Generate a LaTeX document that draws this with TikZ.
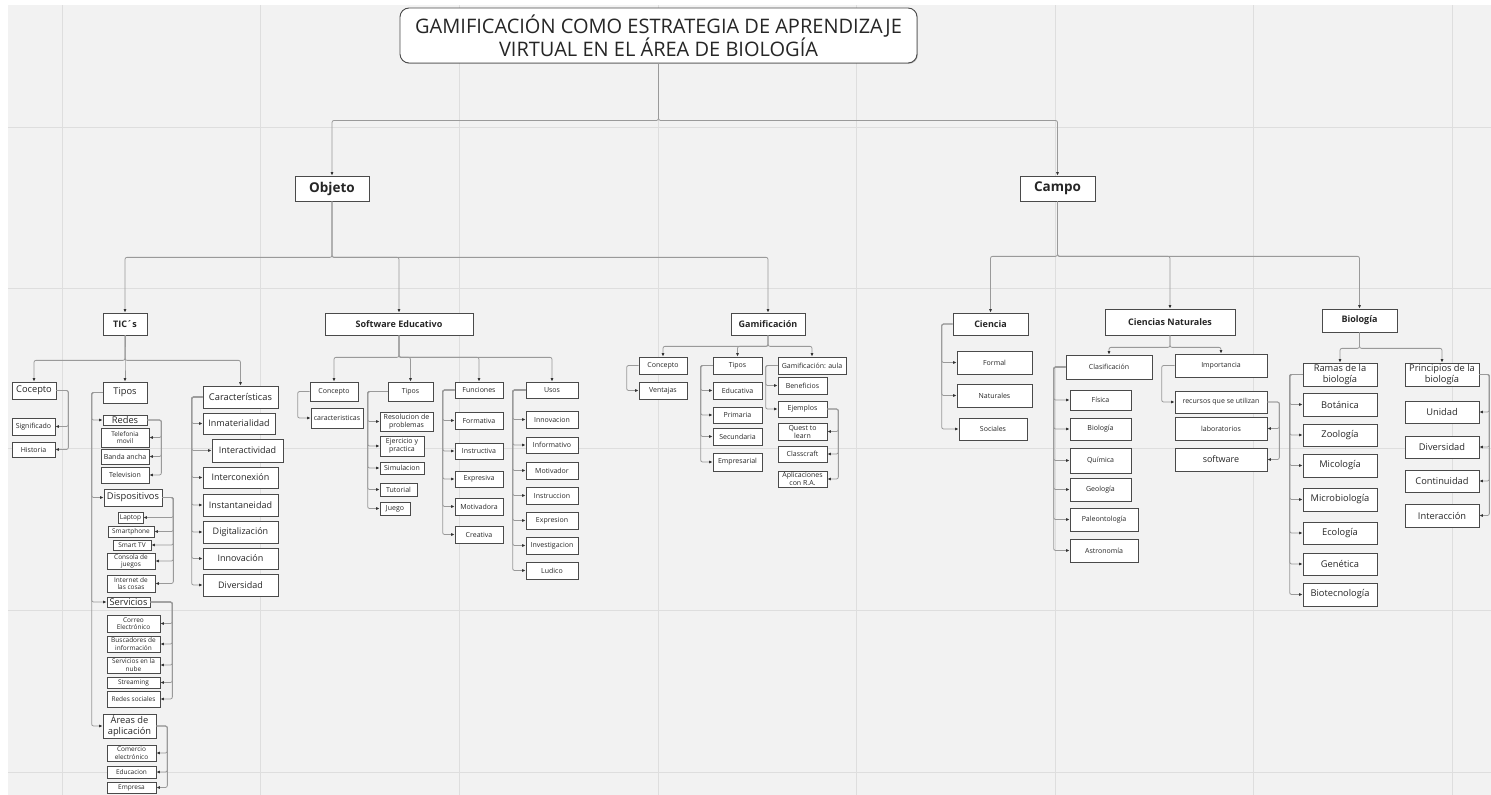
\documentclass[tikz,border=0pt]{standalone}
\usepackage{fontspec}
\newfontfamily\osf{Open Sans}
\usetikzlibrary{arrows.meta,shadows}
\definecolor{bg}{HTML}{F2F2F2}
\definecolor{gridc}{HTML}{DEDEDE}
\definecolor{bord}{HTML}{4A4A4A}
\definecolor{lin}{HTML}{9A9A9A}
\definecolor{tipc}{HTML}{333333}
\definecolor{txt}{HTML}{262626}
\newcommand{\bx}[7]{\node[#1, minimum width={#5-#3}, minimum height={#6-#4}] (#2) at ({(#3+#5)/2},{(#4+#6)/2}) {#7};}
\tikzset{
  box/.style={draw=bord, fill=white, line width=0.7pt, inner sep=0pt, align=center, text=txt,
    drop shadow={shadow xshift=0.8pt, shadow yshift=-0.8pt, fill=black, opacity=0.25}},
  ttl/.style={box, rounded corners=9pt, line width=0.9pt, font=\osf\fontsize{20}{23}\selectfont},
  bigb/.style={box, font=\osf\bfseries\fontsize{13.5}{15}\selectfont},
  midb/.style={box, font=\osf\bfseries\fontsize{9}{10.5}\selectfont},
  tA/.style={box, font=\osf\fontsize{9.3}{10.5}\selectfont},
  tB/.style={box, font=\osf\fontsize{9}{10}\selectfont},
  tC/.style={box, font=\osf\fontsize{7}{8}\selectfont},
  tD/.style={box, font=\osf\fontsize{6.5}{7.3}\selectfont},
  conn/.style={draw=lin, line width=0.8pt, rounded corners=2pt},
  arr/.style={conn, -{Latex[length=3.5pt,width=3pt,color=tipc]}},
}
\begin{document}
\begin{tikzpicture}[x=1pt,y=-1pt]
\useasboundingbox (0,0) rectangle (1491,795);
\fill[white] (0,0) rectangle (1491,795);
\fill[bg] (8,5) rectangle (1491,795);
\foreach \gx in {62,260,459,658,856,1055,1253,1452} \draw[gridc, line width=0.8pt] (\gx,5) -- (\gx,795);
\foreach \gy in {127,288,448,610,772} \draw[gridc, line width=0.8pt] (8,\gy) -- (1491,\gy);

% ---------- top levels
\bx{ttl}{title}{400}{8}{917}{63}{GAMIFICACIÓN COMO ESTRATEGIA DE APRENDIZAJE\\VIRTUAL EN EL ÁREA DE BIOLOGÍA}
\bx{bigb}{objeto}{295}{176}{369}{201}{Objeto}
\bx{bigb}{campo}{1020}{176}{1095}{201}{Campo}
\bx{midb}{tic}{103}{313}{147}{335}{TIC´s}
\bx{midb}{soft}{325}{313}{473}{335}{Software Educativo}
\bx{midb}{gam}{731}{313}{805}{335}{Gamificación}
\bx{midb}{cie}{953}{313}{1028}{335}{Ciencia}
\bx{midb}{cnat}{1105}{309}{1235}{335}{Ciencias Naturales}
\bx{midb}{bio}{1322}{309}{1397}{332}{Biología}

% ---------- TIC's subtree
\bx{tA}{tcoc}{12}{382}{56}{399}{Cocepto}
\bx{tC}{tsig}{12}{418}{55}{435}{Significado}
\bx{tC}{this}{12}{442}{55}{457}{Historia}
\bx{tA}{ttip}{103}{382}{147}{403}{Tipos}
\bx{tA}{tred}{103}{415}{147}{425}{Redes}
\bx{tD}{ttel}{101}{428}{149}{447}{Telefonia\\movil}
\bx{tC}{tban}{101}{449}{149}{464}{Banda ancha}
\bx{tC}{ttv}{101}{467}{149}{483}{Television}
\bx{tA}{tdis}{104}{489}{162}{506}{Dispositivos}
\bx{tD}{tlap}{118}{512}{143}{523}{Laptop}
\bx{tD}{tsma}{108}{526}{154}{537}{Smartphone}
\bx{tD}{tstv}{113}{540}{151}{550}{Smart TV}
\bx{tD}{tcon}{107}{553}{155}{569}{Consola de\\juegos}
\bx{tD}{tint}{107}{575}{155}{592}{Internet de\\las cosas}
\bx{tA}{tser}{107}{597}{150}{607}{Servicios}
\bx{tD}{tcor}{107}{615}{160}{632}{Correo\\Electrónico}
\bx{tD}{tbus}{107}{636}{160}{652}{Buscadores de\\información}
\bx{tD}{tnub}{107}{657}{160}{673}{Servicios en la\\nube}
\bx{tD}{tstr}{107}{677}{160}{688}{Streaming}
\bx{tD}{tres}{107}{691}{160}{707}{Redes sociales}
\bx{tA}{tare}{103}{714}{156}{738}{Áreas de\\aplicación}
\bx{tD}{tcom}{107}{745}{156}{761}{Comercio\\electrónico}
\bx{tD}{tedu}{107}{766}{156}{778}{Educacion}
\bx{tD}{temp}{107}{782}{156}{793}{Empresa}
\bx{tA}{tcar}{203}{386}{278}{408}{Características}
\bx{tB}{ch1}{203}{413}{275}{434}{Inmaterialidad}
\bx{tB}{ch2}{212}{439}{283}{462}{Interactividad}
\bx{tB}{ch3}{203}{467}{278}{488}{Interconexión}
\bx{tB}{ch4}{203}{494}{278}{516}{Instantaneidad}
\bx{tB}{ch5}{203}{521}{278}{543}{Digitalización}
\bx{tB}{ch6}{203}{548}{278}{569}{Innovación}
\bx{tB}{ch7}{203}{574}{278}{596}{Diversidad}

% ---------- Software Educativo subtree
\bx{tC}{scon}{310}{382}{358}{401}{Concepto}
\bx{tC}{scar}{311}{408}{363}{428}{caracteristicas}
\bx{tC}{stip}{388}{382}{433}{401}{Tipos}
\bx{tC}{st1}{380}{412}{433}{431}{Resolucion de\\problemas}
\bx{tC}{st2}{380}{436}{424}{456}{Ejercicio y\\practica}
\bx{tC}{st3}{380}{462}{424}{474}{Simulacion}
\bx{tC}{st4}{380}{483}{417}{496}{Tutorial}
\bx{tC}{st5}{380}{502}{410}{515}{Juego}
\bx{tC}{sfun}{455}{382}{503}{398}{Funciones}
\bx{tC}{sf1}{455}{412}{503}{429}{Formativa}
\bx{tC}{sf2}{455}{443}{503}{459}{Instructiva}
\bx{tC}{sf3}{455}{471}{503}{487}{Expresiva}
\bx{tC}{sf4}{455}{498}{503}{515}{Motivadora}
\bx{tC}{sf5}{455}{526}{503}{543}{Creativa}
\bx{tC}{suso}{526}{382}{578}{398}{Usos}
\bx{tC}{su1}{526}{411}{578}{428}{Innovacion}
\bx{tC}{su2}{526}{437}{578}{453}{Informativo}
\bx{tC}{su3}{526}{462}{578}{479}{Motivador}
\bx{tC}{su4}{526}{487}{578}{504}{Instruccion}
\bx{tC}{su5}{526}{512}{578}{529}{Expresion}
\bx{tC}{su6}{526}{537}{578}{554}{Investigacion}
\bx{tC}{su7}{526}{562}{578}{579}{Ludico}

% ---------- Gamificación subtree
\bx{tC}{gcon}{639}{357}{687}{374}{Concepto}
\bx{tC}{gven}{639}{382}{687}{399}{Ventajas}
\bx{tC}{gtip}{713}{357}{762}{374}{Tipos}
\bx{tC}{gt1}{713}{382}{762}{399}{Educativa}
\bx{tC}{gt2}{713}{407}{762}{423}{Primaria}
\bx{tC}{gt3}{713}{428}{762}{445}{Secundaria}
\bx{tC}{gt4}{713}{453}{762}{471}{Empresarial}
\bx{tC}{gaul}{778}{357}{846}{374}{Gamificación: aula}
\bx{tC}{gben}{778}{377}{827}{394}{Beneficios}
\bx{tC}{gejm}{778}{401}{827}{417}{Ejemplos}
\bx{tC}{ge1}{778}{423}{827}{440}{Quest to\\learn}
\bx{tC}{ge2}{778}{446}{827}{462}{Classcraft}
\bx{tC}{ge3}{778}{471}{827}{487}{Aplicaciones\\con R.A.}

% ---------- Ciencia / Ciencias Naturales
\bx{tC}{cf}{957}{351}{1032}{374}{Formal}
\bx{tC}{cn}{957}{384}{1032}{407}{Naturales}
\bx{tC}{cs}{959}{418}{1027}{440}{Sociales}
\bx{tC}{cla}{1066}{355}{1152}{379}{Clasificación}
\bx{tC}{k1}{1070}{390}{1131}{410}{Física}
\bx{tC}{k2}{1070}{418}{1131}{440}{Biología}
\bx{tC}{k3}{1070}{448}{1131}{473}{Química}
\bx{tC}{k4}{1070}{478}{1131}{501}{Geología}
\bx{tC}{k5}{1070}{508}{1138}{531}{Paleontología}
\bx{tC}{k6}{1070}{539}{1138}{562}{Astronomía}
\bx{tC}{imp}{1175}{354}{1267}{377}{Importancia}
\bx{tC}{rec}{1175}{391}{1267}{413}{recursos que se utilizan}
\bx{tC}{lab}{1175}{417}{1267}{440}{laboratorios}
\bx{tB}{sof}{1175}{448}{1267}{471}{software}

% ---------- Biología
\bx{tA}{ram}{1303}{363}{1377}{386}{Ramas de la\\biología}
\bx{tA}{r1}{1303}{393}{1377}{416}{Botánica}
\bx{tA}{r2}{1303}{424}{1377}{446}{Zoología}
\bx{tA}{r3}{1303}{454}{1377}{477}{Micología}
\bx{tA}{r4}{1303}{488}{1377}{511}{Microbiología}
\bx{tA}{r5}{1303}{522}{1377}{544}{Ecología}
\bx{tA}{r6}{1303}{553}{1377}{575}{Genética}
\bx{tA}{r7}{1303}{583}{1377}{606}{Biotecnología}
\bx{tA}{pri}{1405}{363}{1479}{386}{Principios de la\\biología}
\bx{tA}{p1}{1405}{401}{1479}{423}{Unidad}
\bx{tA}{p2}{1405}{436}{1479}{458}{Diversidad}
\bx{tA}{p3}{1405}{470}{1479}{492}{Continuidad}
\bx{tA}{p4}{1405}{504}{1479}{527}{Interacción}

% ---------- connectors: downward buses
\foreach \c in {objeto,campo} \draw[arr] (title.south) -- ++(0,57) -| (\c.north);
\foreach \c in {tic,soft,gam} \draw[arr] (objeto.south) -- ++(0,56) -| (\c.north);
\foreach \c in {cie,cnat,bio} \draw[arr] (campo.south) -- ++(0,55) -| (\c.north);
\foreach \c in {tcoc,ttip,tcar} \draw[arr] (tic.south) -- ++(0,25) -| (\c.north);
\foreach \c in {scon,stip,sfun,suso} \draw[arr] (soft.south) -- ++(0,22) -| (\c.north);
\foreach \c in {gcon,gtip,gaul} \draw[arr] (gam.south) -- ++(0,11) -| (\c.north);
\foreach \c in {cla,imp} \draw[arr] (cnat.south) -- ++(0,12) -| (\c.north);
\foreach \c in {ram,pri} \draw[arr] (bio.south) -- ++(0,16) -| (\c.north);

% ---------- side buses (left)
\foreach \c in {tred,tdis,tser,tare} \draw[arr] (ttip.west) -- ++(-11,0) |- (\c.west);
\foreach \c in {ch1,ch2,ch3,ch4,ch5,ch6,ch7} \draw[arr] (tcar.west) -- ++(-11,0) |- (\c.west);
\draw[arr] (scon.west) -- ++(-12,0) |- (scar.west);
\foreach \c in {st1,st2,st3,st4,st5} \draw[arr] (stip.west) -- ++(-20,0) |- (\c.west);
\foreach \c in {sf1,sf2,sf3,sf4,sf5} \draw[arr] (sfun.west) -- ++(-12,0) |- (\c.west);
\foreach \c in {su1,su2,su3,su4,su5,su6,su7} \draw[arr] (suso.west) -- ++(-13,0) |- (\c.west);
\draw[arr] (gcon.west) -- ++(-12,0) |- (gven.west);
\foreach \c in {gt1,gt2,gt3,gt4} \draw[arr] (gtip.west) -- ++(-12,0) |- (\c.west);
\foreach \c in {gben,gejm} \draw[arr] (gaul.west) -- ++(-12,0) |- (\c.west);
\foreach \c in {cf,cn,cs} \draw[arr] (cie.west) -- ++(-11,0) |- (\c.west);
\foreach \c in {k1,k2,k3,k4,k5,k6} \draw[arr] (cla.west) -- ++(-12,0) |- (\c.west);
\draw[arr] (imp.west) -- ++(-13,0) |- (rec.west);
\foreach \c in {r1,r2,r3,r4,r5,r6,r7} \draw[arr] (ram.west) -- ++(-13,0) |- (\c.west);

% ---------- side buses (right)
\foreach \c in {tsig,this} \draw[arr] (tcoc.east) -- ++(12,0) |- (\c.east);
\foreach \c in {ttel,tban,ttv} \draw[arr] (tred.east) -- ++(14,0) |- (\c.east);
\foreach \c in {tlap,tsma,tstv,tcon,tint} \draw[arr] (tdis.east) -- ++(11,0) |- (\c.east);
\foreach \c in {tcor,tbus,tnub,tstr,tres} \draw[arr] (tser.east) -- ++(22,0) |- (\c.east);
\foreach \c in {tcom,tedu,temp} \draw[arr] (tare.east) -- ++(11,0) |- (\c.east);
\foreach \c in {ge1,ge2,ge3} \draw[arr] (gejm.east) -- ++(11,0) |- (\c.east);
\foreach \c in {lab,sof} \draw[arr] (rec.east) -- ++(12,0) |- (\c.east);
\foreach \c in {p1,p2,p3,p4} \draw[arr] (pri.east) -- ++(10,0) |- (\c.east);
\end{tikzpicture}
\end{document}
